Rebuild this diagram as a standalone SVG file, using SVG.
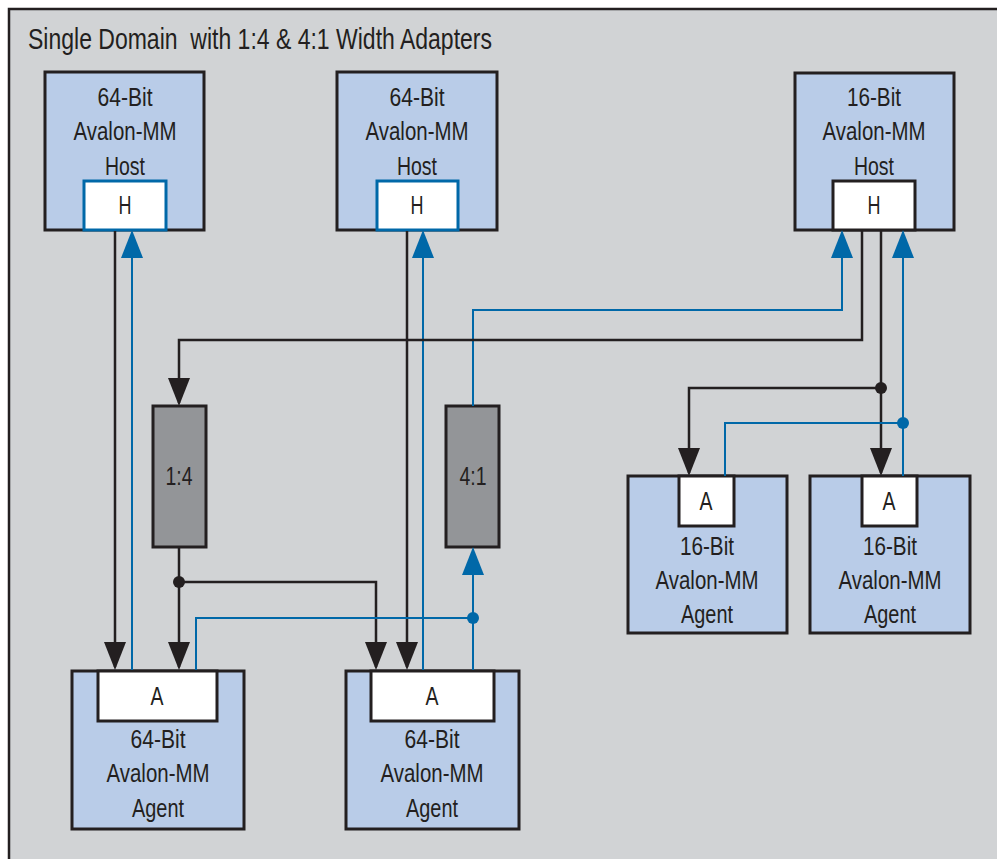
<svg xmlns="http://www.w3.org/2000/svg" width="997" height="859" viewBox="0 0 997 859">
<style>
.txt{font-family:"Liberation Sans",Arial,sans-serif;font-size:25px;fill:#231f20;text-anchor:middle}
.title{font-family:"Liberation Sans",Arial,sans-serif;font-size:30px;fill:#231f20;white-space:pre}
.node{fill:#b9cce8;stroke:#231f20;stroke-width:3}
.port{fill:#ffffff;stroke:#231f20;stroke-width:3}
.portb{fill:#ffffff;stroke:#0068a8;stroke-width:3}
.adapter{fill:#939598;stroke:#231f20;stroke-width:3}
.blk{fill:none;stroke:#231f20;stroke-width:2.5}
.blu{fill:none;stroke:#0068a8;stroke-width:2}
.ablk{marker-end:url(#arrBlk)}
.ablu{marker-end:url(#arrBlu)}
</style>
<defs>
<marker id="arrBlk" viewBox="0 0 28 22" markerWidth="28" markerHeight="22" refX="25" refY="11" orient="auto" markerUnits="userSpaceOnUse">
<path d="M0,0 L28,11 L0,22 z" fill="#231f20"/>
</marker>
<marker id="arrBlu" viewBox="0 0 28 22" markerWidth="28" markerHeight="22" refX="25" refY="11" orient="auto" markerUnits="userSpaceOnUse">
<path d="M0,0 L28,11 L0,22 z" fill="#0068a8"/>
</marker>
</defs>
<rect x="0" y="0" width="997" height="859" fill="#ffffff"/>
<rect id="frame" x="9" y="9" width="1000" height="860" fill="#d1d3d5" stroke="#231f20" stroke-width="2.5"/>
<text class="title" x="28" y="49" xml:space="preserve" textLength="464" lengthAdjust="spacingAndGlyphs">Single Domain  with 1:4 &amp; 4:1 Width Adapters</text>

<g id="host1">
<rect class="node" x="45" y="72" width="159" height="158"/>
<text class="txt" x="125" y="106" textLength="55" lengthAdjust="spacingAndGlyphs">64-Bit</text>
<text class="txt" x="125" y="140" textLength="103" lengthAdjust="spacingAndGlyphs">Avalon-MM</text>
<text class="txt" x="125" y="175" textLength="40" lengthAdjust="spacingAndGlyphs">Host</text>
<rect class="portb" x="84" y="181" width="82" height="49"/>
<text class="txt" x="125" y="214" textLength="13" lengthAdjust="spacingAndGlyphs">H</text>
</g>
<g id="host2">
<rect class="node" x="337" y="72" width="160" height="158"/>
<text class="txt" x="417" y="106" textLength="55" lengthAdjust="spacingAndGlyphs">64-Bit</text>
<text class="txt" x="417" y="140" textLength="103" lengthAdjust="spacingAndGlyphs">Avalon-MM</text>
<text class="txt" x="417" y="175" textLength="40" lengthAdjust="spacingAndGlyphs">Host</text>
<rect class="portb" x="377" y="181" width="81" height="49"/>
<text class="txt" x="417" y="214" textLength="13" lengthAdjust="spacingAndGlyphs">H</text>
</g>
<g id="host3">
<rect class="node" x="795" y="73" width="159" height="157"/>
<text class="txt" x="874" y="106" textLength="54" lengthAdjust="spacingAndGlyphs">16-Bit</text>
<text class="txt" x="874" y="140" textLength="103" lengthAdjust="spacingAndGlyphs">Avalon-MM</text>
<text class="txt" x="874" y="175" textLength="40" lengthAdjust="spacingAndGlyphs">Host</text>
<rect class="port" x="833" y="181" width="82" height="49"/>
<text class="txt" x="874" y="214" textLength="13" lengthAdjust="spacingAndGlyphs">H</text>
</g>
<g id="adapter14">
<rect class="adapter" x="153" y="406" width="53" height="141"/>
<text class="txt" x="179" y="485" textLength="27" lengthAdjust="spacingAndGlyphs">1:4</text>
</g>
<g id="adapter41">
<rect class="adapter" x="446" y="406" width="53" height="141"/>
<text class="txt" x="473" y="485" textLength="27" lengthAdjust="spacingAndGlyphs">4:1</text>
</g>
<g id="agent16a">
<rect class="node" x="628" y="476" width="159" height="157"/>
<rect class="port" x="679" y="476" width="55" height="50"/>
<text class="txt" x="706" y="510" textLength="13" lengthAdjust="spacingAndGlyphs">A</text>
<text class="txt" x="707" y="555" textLength="54" lengthAdjust="spacingAndGlyphs">16-Bit</text>
<text class="txt" x="707" y="589" textLength="103" lengthAdjust="spacingAndGlyphs">Avalon-MM</text>
<text class="txt" x="707" y="623" textLength="52" lengthAdjust="spacingAndGlyphs">Agent</text>
</g>
<g id="agent16b">
<rect class="node" x="810" y="476" width="160" height="157"/>
<rect class="port" x="862" y="476" width="55" height="50"/>
<text class="txt" x="889" y="510" textLength="13" lengthAdjust="spacingAndGlyphs">A</text>
<text class="txt" x="890" y="555" textLength="54" lengthAdjust="spacingAndGlyphs">16-Bit</text>
<text class="txt" x="890" y="589" textLength="103" lengthAdjust="spacingAndGlyphs">Avalon-MM</text>
<text class="txt" x="890" y="623" textLength="52" lengthAdjust="spacingAndGlyphs">Agent</text>
</g>
<g id="agent64a">
<rect class="node" x="72" y="671" width="172" height="158"/>
<rect class="port" x="98" y="671" width="119" height="50"/>
<text class="txt" x="157" y="705" textLength="13" lengthAdjust="spacingAndGlyphs">A</text>
<text class="txt" x="158" y="748" textLength="55" lengthAdjust="spacingAndGlyphs">64-Bit</text>
<text class="txt" x="158" y="782" textLength="103" lengthAdjust="spacingAndGlyphs">Avalon-MM</text>
<text class="txt" x="158" y="817" textLength="52" lengthAdjust="spacingAndGlyphs">Agent</text>
</g>
<g id="agent64b">
<rect class="node" x="346" y="671" width="173" height="158"/>
<rect class="port" x="371" y="671" width="123" height="50"/>
<text class="txt" x="432" y="705" textLength="13" lengthAdjust="spacingAndGlyphs">A</text>
<text class="txt" x="432" y="748" textLength="55" lengthAdjust="spacingAndGlyphs">64-Bit</text>
<text class="txt" x="432" y="782" textLength="103" lengthAdjust="spacingAndGlyphs">Avalon-MM</text>
<text class="txt" x="432" y="817" textLength="52" lengthAdjust="spacingAndGlyphs">Agent</text>
</g>

<g id="connectors">
<path class="blk ablk" d="M115,231 V667"/>
<path class="blu ablu" d="M132,670 V233"/>
<path class="blk ablk" d="M407,231 V667"/>
<path class="blu ablu" d="M423,670 V233"/>
<path class="blu" d="M473,406 V310 H842 V250"/>
<path class="blu ablu" d="M842,260 V233"/>
<path class="blk ablk" d="M862,231 V340 H179 V403"/>
<path class="blk ablk" d="M881,231 V473"/>
<path class="blk ablk" d="M881,388 H689 V473"/>
<path class="blu ablu" d="M903,476 V233"/>
<path class="blu" d="M725,476 V423 H903"/>
<path class="blk ablk" d="M179,548 V667"/>
<path class="blk ablk" d="M179,582 H376 V667"/>
<path class="blu ablu" d="M473,670 V550"/>
<path class="blu" d="M196,670 V618 H473"/>
<circle cx="881" cy="388" r="6" fill="#231f20"/>
<circle cx="179" cy="582" r="6" fill="#231f20"/>
<circle cx="903" cy="423" r="6" fill="#0068a8"/>
<circle cx="473" cy="618" r="6" fill="#0068a8"/>
</g>
</svg>
